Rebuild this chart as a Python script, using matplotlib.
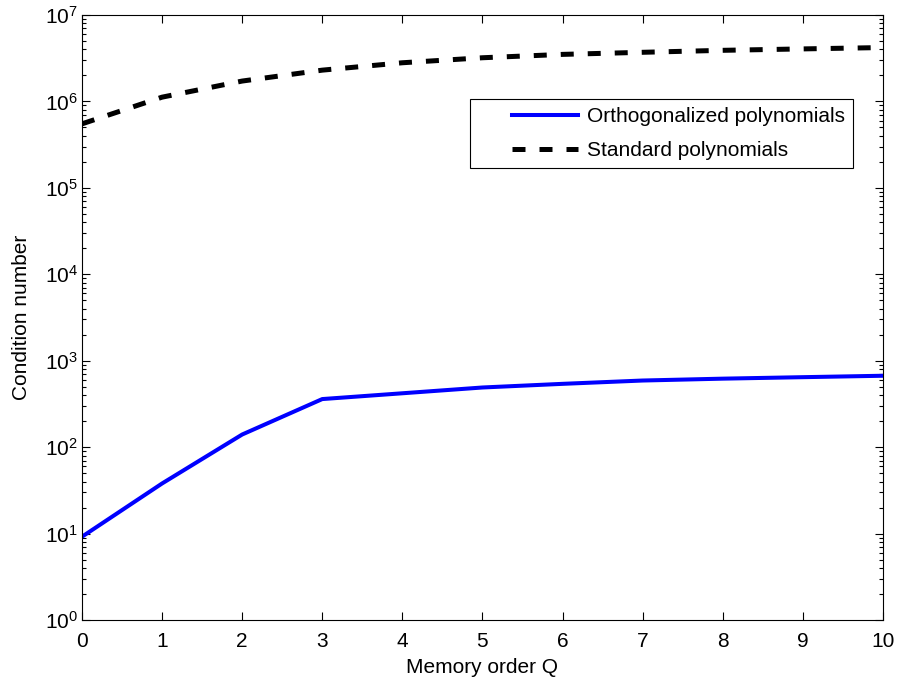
import numpy as np
import matplotlib
matplotlib.use("Agg")
import matplotlib.pyplot as plt
from matplotlib.ticker import NullFormatter
from matplotlib.legend_handler import HandlerLine2D

# data
memory_order = [0, 1, 2, 3, 4, 5, 6, 7, 8, 9, 10]
cond_orth = [9.2, 38, 140, 360, 420, 490, 540, 590, 620, 645, 670]
cond_std = [5.5e5, 1.12e6, 1.72e6, 2.3e6, 2.8e6, 3.2e6, 3.5e6, 3.7e6, 3.9e6, 4.05e6, 4.2e6]

plt.rcParams['font.family'] = ['Liberation Sans', 'DejaVu Sans']
plt.rcParams['mathtext.default'] = 'regular'
plt.rcParams['font.size'] = 15

fig = plt.figure(figsize=(9, 6.87), dpi=100)
ax = fig.add_axes([0.0911, 0.0975, 0.8899, 0.8807])

ax.plot(memory_order, cond_orth, color='#0000ff', lw=2.9, label='Orthogonalized polynomials')
ax.plot(memory_order, cond_std, color='black', lw=3.6, ls=(0, (2.6, 2.8)),
        label='Standard polynomials')

ax.set_yscale('log')
ax.set_xlim(0, 10)
ax.set_ylim(1, 1e7)
ax.set_xticks(range(0, 11))
decades = 10.0 ** np.arange(0, 8)
ax.set_yticks(decades)
ax.set_yticks([d * s for d in decades[:-1] for s in range(2, 10)], minor=True)
ax.yaxis.set_minor_formatter(NullFormatter())

ax.tick_params(which='both', direction='in', top=True, right=True)
ax.tick_params(which='major', length=6, width=0.8)
ax.tick_params(which='minor', length=3, width=0.8)
ax.tick_params(axis='x', pad=8.5)
ax.tick_params(axis='y', pad=3)

ax.set_xlabel('Memory order Q', labelpad=5)
ax.set_ylabel('Condition number', labelpad=10)

# MATLAB-style legend: line sample set in from the left edge
leg = ax.legend(loc='upper right', bbox_to_anchor=(0.9625, 0.861), borderaxespad=0,
                fancybox=False, edgecolor='black', framealpha=1,
                handlelength=4.8, borderpad=0.4, labelspacing=0.7, handletextpad=0.4,
                handler_map={matplotlib.lines.Line2D: HandlerLine2D(xpad=1.6)})
leg.get_frame().set_linewidth(0.8)

fig.savefig('out.png', dpi=100)
